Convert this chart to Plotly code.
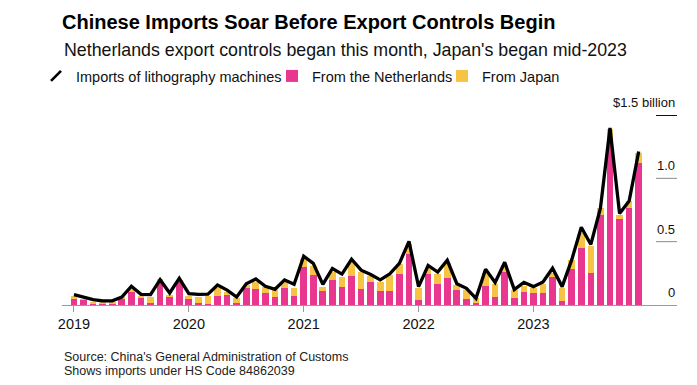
import plotly.graph_objects as go

# ---- data (US$ billion, monthly) ----
years = ["2019", "2020", "2021", "2022", "2023"]
months = [f"{y}-{m:02d}" for y in years for m in range(1, 13)]

total_imports = [
    0.082, 0.062, 0.042, 0.033, 0.033, 0.062, 0.148, 0.084, 0.082, 0.200, 0.095, 0.211,
    0.090, 0.084, 0.085, 0.158, 0.118, 0.063, 0.167, 0.205, 0.148, 0.124, 0.198, 0.163,
    0.385, 0.329, 0.163, 0.288, 0.244, 0.361, 0.275, 0.241, 0.198, 0.246, 0.329, 0.502,
    0.145, 0.312, 0.260, 0.353, 0.168, 0.132, 0.053, 0.283, 0.178, 0.337, 0.121, 0.179,
    0.145, 0.182, 0.290, 0.145, 0.356, 0.614, 0.478, 0.764, 1.397, 0.722, 0.821, 1.212,
]
from_netherlands = [
    0.047, 0.041, 0.009, 0.009, 0.013, 0.047, 0.099, 0.053, 0.015, 0.191, 0.060, 0.184,
    0.050, 0.012, 0.005, 0.074, 0.079, 0.018, 0.136, 0.126, 0.097, 0.066, 0.137, 0.071,
    0.303, 0.237, 0.113, 0.198, 0.140, 0.229, 0.126, 0.180, 0.112, 0.112, 0.245, 0.400,
    0.040, 0.242, 0.166, 0.216, 0.119, 0.047, 0.013, 0.153, 0.061, 0.263, 0.058, 0.100,
    0.092, 0.097, 0.224, 0.034, 0.282, 0.453, 0.256, 0.711, 1.304, 0.677, 0.769, 1.125,
]
from_japan = [
    0.024, 0.004, 0.015, 0.009, 0.005, 0.019, 0.025, 0.018, 0.048, 0.011, 0.019, 0.016,
    0.024, 0.054, 0.063, 0.058, 0.026, 0.037, 0.020, 0.058, 0.046, 0.053, 0.041, 0.066,
    0.062, 0.070, 0.026, 0.065, 0.084, 0.107, 0.137, 0.047, 0.072, 0.128, 0.082, 0.085,
    0.097, 0.048, 0.082, 0.113, 0.039, 0.072, 0.040, 0.097, 0.105, 0.053, 0.061, 0.053,
    0.044, 0.069, 0.032, 0.103, 0.074, 0.118, 0.213, 0.053, 0.085, 0.034, 0.053, 0.074,
]
y_tickvals = [0, 0.5, 1.0, 1.5]
y_ticktext = ["0", "0.5", "1.0", "$1.5 billion"]

PINK = "#E9368E"
YELLOW = "#F6C344"
FONT = "Liberation Sans"

# The page body adds an 8px margin, so the figure is 8px smaller than the window
OFF = 8
W, H = 697 - OFF, 385 - OFF
L, R, T, B = 62 - OFF, 20, 115 - OFF, 80


def fx(page_px):  # page pixel x -> paper coordinate
    return (page_px - OFF - L) / (W - L - R)


def fy(page_py):  # page pixel y -> paper coordinate
    return (H - B - (page_py - OFF)) / (H - T - B)


def cx(page_px):  # page pixel x -> container fraction
    return (page_px - OFF) / W


def cy(page_py):
    return 1 - (page_py - OFF) / H


fig = go.Figure()
fig.add_trace(go.Bar(x=months, y=from_netherlands, name="From the Netherlands",
                     marker=dict(color=PINK, line=dict(width=0)), legend="legend2"))
fig.add_trace(go.Bar(x=months, y=from_japan, name="From Japan",
                     marker=dict(color=YELLOW, line=dict(width=0)), legend="legend3"))
fig.add_trace(go.Scatter(x=months, y=total_imports, mode="lines", showlegend=False,
                         line=dict(color="black", width=3.3)))
# legend entry for the line (slash symbol)
fig.add_trace(go.Scatter(x=[None], y=[None], mode="markers", name="Imports of lithography machines",
                         marker=dict(symbol="line-ne", size=10, line=dict(color="black", width=2.6)),
                         legend="legend"))

leg_common = dict(orientation="h", xref="container", yref="container", yanchor="middle",
                  xanchor="left", font=dict(family=FONT, size=14.5, color="#111"),
                  bgcolor="rgba(0,0,0,0)", itemwidth=30)

# value-axis labels, placed through the y scale
axis_labels = [
    dict(text=t, xref="paper", yref="y", x=1.0, y=v, xanchor="right", yanchor="bottom",
         yshift=3, showarrow=False, font=dict(family=FONT, size=13, color="#111"))
    for v, t in zip(y_tickvals, y_ticktext)
]
# short value-axis rules under the labels (the 0 rule is the baseline)
axis_rules = [
    dict(type="line", xref="paper", yref="y", x0=fx(656), x1=1.0, y0=v, y1=v,
         layer="above",
         line=dict(color="#111111" if v == y_tickvals[-1] else "#8a8a8a",
                   width=2 if v == y_tickvals[-1] else 1))
    for v in y_tickvals[1:]
]

fig.update_layout(
    width=W, height=H,
    margin=dict(l=L, r=R, t=T, b=B, autoexpand=False),
    paper_bgcolor="white", plot_bgcolor="white",
    barmode="stack", bargap=0.3,
    font=dict(family=FONT, color="#111"),
    title=dict(text="<b>Chinese Imports Soar Before Export Controls Begin</b>",
               xref="container", yref="container", x=cx(62), xanchor="left",
               y=cy(22), yanchor="middle",
               font=dict(family=FONT, size=20, color="black")),
    legend=dict(x=cx(77 - 41), y=cy(76), **leg_common),
    legend2=dict(x=cx(313 - 41), y=cy(76), **leg_common),
    legend3=dict(x=cx(483 - 41), y=cy(76), **leg_common),
    xaxis=dict(type="category", categoryorder="array", categoryarray=months,
               range=[-1.25, 63.0], tickmode="array",
               tickvals=[f"{y}-01" for y in years], ticktext=years,
               ticks="outside", ticklen=6, tickcolor="#9a9a9a", tickwidth=1,
               showline=True, linecolor="#9a9a9a", linewidth=1,
               showgrid=False, zeroline=False,
               tickfont=dict(family=FONT, size=14.5, color="#111")),
    yaxis=dict(range=[0, 1.5], showticklabels=False, ticks="",
               showline=False, showgrid=False, zeroline=False),
    shapes=axis_rules,
    annotations=[
        dict(text="Netherlands export controls began this month, Japan's began mid-2023",
             xref="paper", yref="paper", x=fx(62), y=fy(50),
             xanchor="left", yanchor="middle", showarrow=False,
             font=dict(family=FONT, size=17.8, color="#111")),
        dict(text="Source: China's General Administration of Customs",
             xref="paper", yref="paper", x=fx(62), y=fy(357),
             xanchor="left", yanchor="middle", showarrow=False, align="left",
             font=dict(family=FONT, size=12.5, color="#222")),
        dict(text="Shows imports under HS Code 84862039",
             xref="paper", yref="paper", x=fx(62), y=fy(371),
             xanchor="left", yanchor="middle", showarrow=False, align="left",
             font=dict(family=FONT, size=12.5, color="#222")),
    ] + axis_labels,
)

fig.write_html("out.html")
